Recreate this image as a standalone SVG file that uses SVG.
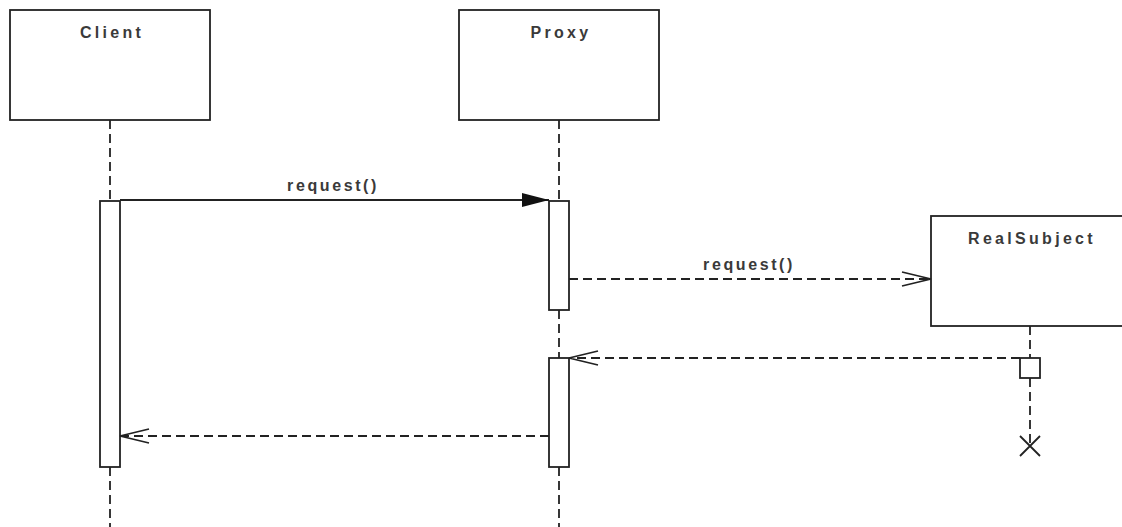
<svg xmlns="http://www.w3.org/2000/svg" width="1122" height="527" viewBox="0 0 1122 527">
  <defs>
    <style>
      .box { fill: #fff; stroke: #222; stroke-width: 1.8; }
      .bar { fill: #fff; stroke: #222; stroke-width: 1.8; }
      .life { stroke: #222; stroke-width: 1.8; stroke-dasharray: 9 5; fill: none; }
      .msg { stroke: #222; stroke-width: 1.8; fill: none; }
      .ret { stroke: #222; stroke-width: 1.8; stroke-dasharray: 9 5; fill: none; }
      .head { stroke: #222; stroke-width: 1.8; fill: none; }
      .lbl { font-family: "Liberation Sans", Arial, sans-serif; font-size: 16px; font-weight: bold; fill: #3a3a3a; letter-spacing: 3.3px; text-anchor: middle; }
      .call { letter-spacing: 2.6px; }
    </style>
    <marker id="filled" markerWidth="28" markerHeight="16" refX="27" refY="8" orient="auto" markerUnits="userSpaceOnUse">
      <path d="M0,1 L27,8 L0,15 Z" fill="#111"/>
    </marker>
    <marker id="open" markerWidth="32" markerHeight="18" refX="30" refY="9" orient="auto" markerUnits="userSpaceOnUse">
      <path d="M1,2 L30,9 L1,16" class="head"/>
    </marker>
  </defs>
  <rect width="1122" height="527" fill="#fff"/>

  <!-- dashed lifelines -->
  <g id="lifelines">
    <line class="life" x1="110" y1="120" x2="110" y2="201"/>
    <line class="life" x1="110" y1="467" x2="110" y2="527"/>
    <line class="life" x1="559" y1="120" x2="559" y2="201"/>
    <line class="life" x1="559" y1="310" x2="559" y2="358"/>
    <line class="life" x1="559" y1="467" x2="559" y2="527"/>
    <line class="life" x1="1030" y1="326" x2="1030" y2="358"/>
    <line class="life" x1="1030" y1="378" x2="1030" y2="446"/>
  </g>

  <g id="client">
    <rect class="box" x="10" y="10" width="200" height="110"/>
    <text class="lbl" x="112" y="38">Client</text>
    <rect class="bar" x="100" y="201" width="20" height="266"/>
  </g>

  <g id="proxy">
    <rect class="box" x="459" y="10" width="200" height="110"/>
    <text class="lbl" x="561" y="38">Proxy</text>
    <rect class="bar" x="549" y="201" width="20" height="109"/>
    <rect class="bar" x="549" y="358" width="20" height="109"/>
  </g>

  <g id="realsubject">
    <rect class="box" x="931" y="216" width="200" height="110"/>
    <text class="lbl" x="1032" y="244">RealSubject</text>
    <rect class="bar" x="1020" y="358" width="20" height="20"/>
    <!-- destruction mark -->
    <path class="head" d="M1020,436 L1040,456 M1040,436 L1020,456"/>
  </g>

  <g id="connectors">
    <line class="msg" x1="120" y1="200" x2="549" y2="200" marker-end="url(#filled)"/>
    <text class="lbl call" x="333" y="191">request()</text>
    <line class="ret" x1="569" y1="279" x2="931" y2="279" marker-end="url(#open)"/>
    <text class="lbl call" x="749" y="270">request()</text>
    <line class="ret" x1="1020" y1="358" x2="569" y2="358" marker-end="url(#open)"/>
    <line class="ret" x1="549" y1="436" x2="120" y2="436" marker-end="url(#open)"/>
  </g>
</svg>
